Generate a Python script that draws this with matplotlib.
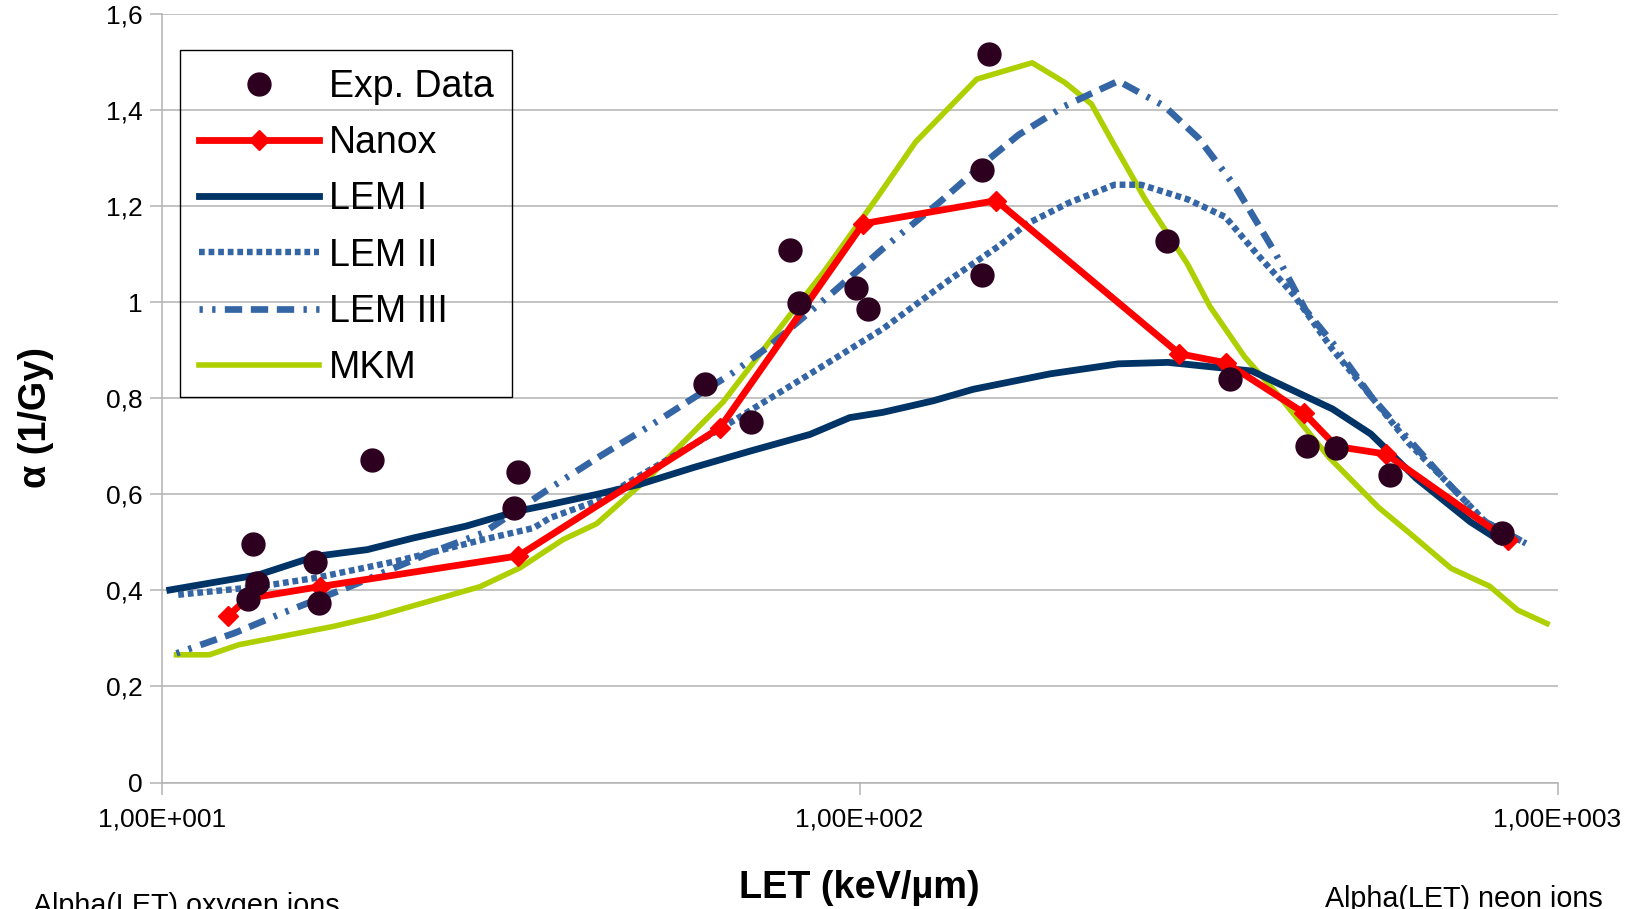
import numpy as np
import matplotlib
matplotlib.use("Agg")
import matplotlib.pyplot as plt
from matplotlib.ticker import FuncFormatter, FixedLocator, NullLocator
from matplotlib.lines import Line2D
from matplotlib.patches import Rectangle

plt.rcParams["font.family"] = ["Liberation Sans", "DejaVu Sans"]

# experimental points (LET in keV/um, alpha in 1/Gy)
exp_let = [13.30, 13.50, 13.71, 16.58, 16.79, 20.0, 32.0, 32.36, 60.0, 70.0,
           79.6, 81.9, 98.8, 102.9, 149.9, 150.0, 153.4, 275.3, 339.1, 437.5,
           482.0, 575.6, 831.8]
exp_alpha = [0.383, 0.497, 0.415, 0.459, 0.374, 0.671, 0.571, 0.647, 0.829, 0.751,
             1.109, 0.999, 1.029, 0.987, 1.057, 1.276, 1.517, 1.127, 0.841, 0.700,
             0.696, 0.640, 0.519]

nanox_let = [12.46, 13.24, 16.86, 32.43, 63.1, 101.2, 157.0, 287.2, 335.1, 433.0,
             482.0, 568.0, 850.0]
nanox_alpha = [0.347, 0.383, 0.408, 0.472, 0.739, 1.164, 1.212, 0.893, 0.874, 0.770,
               0.700, 0.684, 0.505]

lem1_let = [10.27, 13.8, 16.6, 19.7, 22.9, 27.3, 32.3, 36.0, 42.0, 48.4, 57.8, 69.6,
            84.9, 96.8, 108.0, 127.5, 145.5, 187.3, 234.8, 276.6, 365.0, 409.0,
            476.0, 540.0, 628.0, 750.0, 830.0]
lem1_alpha = [0.401, 0.433, 0.471, 0.485, 0.509, 0.534, 0.565, 0.579, 0.600, 0.621,
              0.656, 0.690, 0.725, 0.760, 0.771, 0.795, 0.819, 0.851, 0.872, 0.875,
              0.857, 0.823, 0.778, 0.726, 0.633, 0.543, 0.502]

lem2_let = [10.56, 13.8, 16.6, 21.7, 28.9, 34.1, 36.0, 42.5, 47.9, 62.4, 84.9, 108.0,
            134.8, 158.9, 173.4, 199.2, 231.8, 253.2, 294.7, 334.2, 369.8, 419.7,
            476.0, 540.0, 612.0, 695.0, 788.0, 901.0]
lem2_alpha = [0.391, 0.408, 0.426, 0.461, 0.506, 0.530, 0.551, 0.589, 0.635, 0.732,
              0.851, 0.945, 1.048, 1.119, 1.163, 1.207, 1.245, 1.245, 1.215, 1.178,
              1.103, 1.014, 0.902, 0.805, 0.707, 0.625, 0.543, 0.498]

lem3_let = [10.5, 12.7, 14.9, 18.6, 24.5, 28.9, 36.0, 42.5, 50.1, 65.9, 74.4, 91.6,
            108.0, 130.5, 152.8, 169.0, 196.8, 217.7, 234.8, 273.2, 306.0, 347.0,
            394.0, 435.6, 476.0, 540.0, 612.0, 695.0, 788.0, 901.0]
lem3_alpha = [0.269, 0.311, 0.353, 0.408, 0.481, 0.520, 0.613, 0.680, 0.743, 0.854,
              0.910, 1.021, 1.112, 1.210, 1.297, 1.349, 1.409, 1.439, 1.461, 1.409,
              1.342, 1.237, 1.103, 0.984, 0.916, 0.805, 0.715, 0.625, 0.543, 0.498]

mkm_let = [10.5, 11.7, 12.9, 14.0, 17.6, 20.3, 28.6, 32.6, 37.6, 42.0, 50.1, 63.7,
           79.4, 88.8, 105.8, 120.3, 147.2, 176.7, 196.8, 214.9, 231.8, 256.5,
           294.7, 317.8, 356.0, 399.0, 470.0, 554.0, 612.0, 704.0, 799.0, 877.0, 966.0]
mkm_alpha = [0.266, 0.266, 0.287, 0.297, 0.325, 0.346, 0.408, 0.447, 0.506, 0.539,
             0.638, 0.792, 0.973, 1.063, 1.217, 1.334, 1.465, 1.499, 1.458, 1.413,
             1.327, 1.215, 1.081, 0.991, 0.887, 0.805, 0.678, 0.573, 0.521, 0.446,
             0.409, 0.359, 0.331]

W, H = 1635, 909
fig = plt.figure(figsize=(W / 100, H / 100), dpi=100)
ax = fig.add_axes([161.7 / W, 1 - 782.5 / H, (1557.5 - 161.7) / W, (782.5 - 14.3) / H])

grey = "#b3b3b3"
ax.set_xscale("log")
ax.set_xlim(10, 1000)
ax.set_ylim(0, 1.6)
ax.yaxis.set_major_locator(FixedLocator(np.arange(0, 1.61, 0.2)))
ax.xaxis.set_major_locator(FixedLocator([10, 100, 1000]))
ax.xaxis.set_minor_locator(NullLocator())


def sci_fmt(v, pos):
    m, e = f"{v:.2E}".split("E")
    return f"{m.replace('.', ',')}E{int(e):+04d}"


ax.xaxis.set_major_formatter(FuncFormatter(sci_fmt))
ax.yaxis.set_major_formatter(FuncFormatter(lambda v, p: f"{round(v, 1):g}".replace(".", ",")))
ax.grid(axis="y", color=grey, linewidth=1.1)
ax.set_axisbelow(True)
for s in ["top", "right"]:
    ax.spines[s].set_visible(False)
for s in ["left", "bottom"]:
    ax.spines[s].set_color(grey)
    ax.spines[s].set_linewidth(1.1)
ax.tick_params(axis="both", colors=grey, labelcolor="black", labelsize=19,
               length=8.7, width=1.1, direction="out")
ax.tick_params(axis="x", pad=9.5)
ax.tick_params(axis="y", pad=4.7)

lem_blue = "#3465a4"
dashdot = (0.5, 1.4, 0.5, 1.4, 2.6, 1.3, 2.6, 1.3, 2.6, 1.4)
ax.plot(mkm_let, mkm_alpha, color="#aecf00", lw=4.0, zorder=2)
ax.plot(lem3_let, lem3_alpha, color=lem_blue, lw=4.8, dashes=dashdot,
        dash_capstyle="butt", zorder=2)
ax.plot(lem2_let, lem2_alpha, color=lem_blue, lw=4.6, dashes=(0.9, 0.6),
        dash_capstyle="butt", zorder=2)
ax.plot(lem1_let, lem1_alpha, color="#003366", lw=4.9, zorder=2)
ax.plot(nanox_let, nanox_alpha, color="#ff0000", lw=4.9, marker="D", markersize=10,
        zorder=3)
ax.plot(exp_let, exp_alpha, linestyle="none", marker="o", markersize=16.5,
        color="#2d0020", zorder=4)

handles = [
    Line2D([], [], linestyle="none", marker="o", markersize=16.5, color="#2d0020"),
    Line2D([], [], color="#ff0000", lw=4.9, marker="D", markersize=10),
    Line2D([], [], color="#003366", lw=4.9),
    Line2D([], [], color=lem_blue, lw=4.6, dashes=(0.9, 0.6), dash_capstyle="butt"),
    Line2D([], [], color=lem_blue, lw=4.8, dashes=dashdot, dash_capstyle="butt"),
    Line2D([], [], color="#aecf00", lw=4.0),
]
labels = ["Exp. Data", "Nanox", "LEM I", "LEM II", "LEM III", "MKM"]
leg = fig.legend(handles, labels, loc="upper left", bbox_to_anchor=(180 / W, 1 - 50 / H),
                 borderaxespad=0, fontsize=27, handlelength=3.2, handletextpad=0.27,
                 labelspacing=0.54, borderpad=0.5, frameon=False, numpoints=1)
# legend frame drawn separately so its box matches the original
fig.add_artist(Rectangle((180 / W, 1 - 396.7 / H), (512.3 - 180) / W, (396.7 - 50) / H,
                         transform=fig.transFigure, fill=False, edgecolor="black",
                         linewidth=1.0))

fig.text(859 / W, 1 - 898 / H, "LET (keV/µm)", ha="center", va="baseline",
         fontsize=27.3, fontweight="bold")
fig.text(36 / W, 1 - 418 / H, "α (1/Gy)", ha="center", va="center", rotation=90,
         fontsize=27.3, fontweight="bold")
fig.text(33 / W, 1 - 913.5 / H, "Alpha(LET) oxygen ions", ha="left", va="baseline",
         fontsize=20.7)
fig.text(1325 / W, 1 - 906.7 / H, "Alpha(LET) neon ions", ha="left", va="baseline",
         fontsize=20.7)

fig.savefig("out.png", dpi=100)
